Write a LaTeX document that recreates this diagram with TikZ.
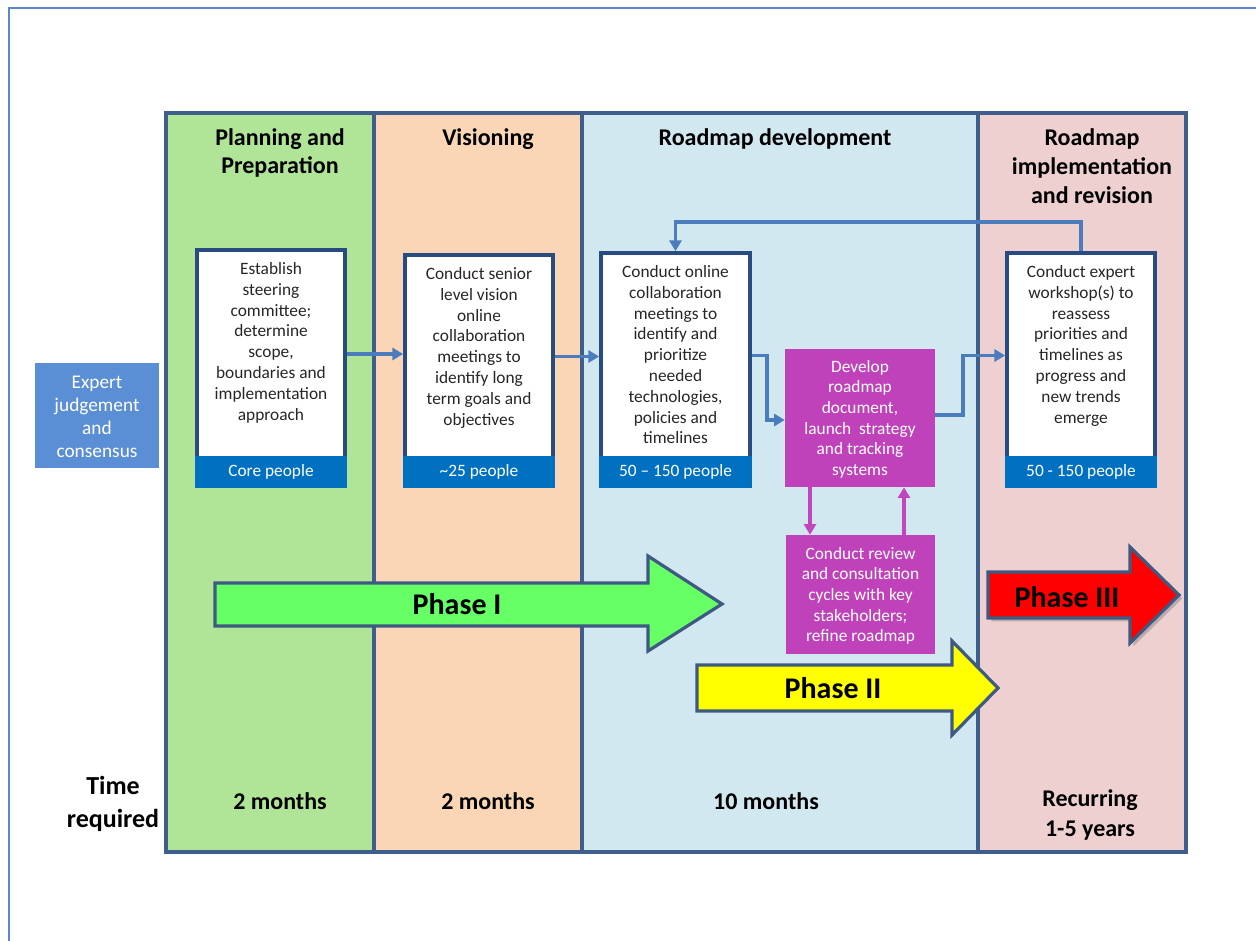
\documentclass[tikz,border=0pt]{standalone}
\usepackage{fontspec}
\setmainfont{Carlito}
\usetikzlibrary{fit,arrows.meta,shadows,calc}
\definecolor{cgreen}{RGB}{176,229,152}
\definecolor{cpeach}{RGB}{251,214,182}
\definecolor{cblue}{RGB}{210,232,240}
\definecolor{cpink}{RGB}{238,208,209}
\definecolor{colborder}{RGB}{64,94,140}
\definecolor{boxborder}{RGB}{40,76,130}
\definecolor{bandblue}{RGB}{0,112,192}
\definecolor{connblue}{RGB}{74,124,190}
\definecolor{magbox}{RGB}{192,66,186}
\definecolor{magline}{RGB}{196,70,190}
\definecolor{expblue}{RGB}{90,142,213}
\definecolor{framec}{RGB}{92,135,198}
\definecolor{phborder}{RGB}{62,90,130}
\definecolor{pgreen}{RGB}{102,255,102}
\definecolor{pyellow}{RGB}{255,255,0}
\definecolor{pred}{RGB}{255,0,0}
\begin{document}
\begin{tikzpicture}[x=0.75pt,y=-0.75pt,
  col/.style={draw=colborder,line width=2.4pt,inner sep=0pt},
  hdr/.style={font=\fontsize{18}{21.5}\selectfont\bfseries,align=center,inner sep=0pt},
  wbox/.style={draw=boxborder,fill=white,line width=2.8pt,inner sep=0pt},
  band/.style={fill=bandblue,inner sep=0pt},
  bandtext/.style={text=white,font=\fontsize{13}{15.6}\selectfont,inner sep=0pt},
  btext/.style={font=\fontsize{13}{15.6}\selectfont,align=center,inner sep=0pt,text=black!85},
  mbox/.style={fill=magbox,inner sep=0pt},
  mtext/.style={text=white,font=\fontsize{13}{15.5}\selectfont,align=center,inner sep=0pt},
  ebox/.style={fill=expblue,inner sep=0pt},
  etext/.style={text=white,font=\fontsize{14.5}{17.25}\selectfont,align=center,inner sep=0pt},
  conn/.style={draw=connblue,line width=2.8pt,-{Triangle[length=8pt,width=9pt]}},
  mconn/.style={draw=magline,line width=2.6pt,-{Triangle[length=8pt,width=9pt]}},
  phase/.style={draw=phborder,line width=2.4pt,line join=miter},
  phtext/.style={font=\fontsize{22.5}{26}\selectfont\bfseries,inner sep=0pt},
  bottomtext/.style={font=\fontsize{18}{22}\selectfont\bfseries,align=center,inner sep=0pt}
]
\useasboundingbox (0,0) rectangle (1256,940);
% outer frame
\draw[draw=framec,line width=1.5pt] (9,950) -- (9,8) -- (1270,8);

% columns
\node[col,fill=cgreen,fit={(166,113)(374,852)}] (c1) {};
\node[col,fill=cpeach,fit={(374,113)(582,852)}] (c2) {};
\node[col,fill=cblue,fit={(582,113)(978,852)}] (c3) {};
\node[col,fill=cpink,fit={(978,113)(1186,852)}] (c4) {};

% headers
\node[hdr] (h1) at (280,153) {Planning and\\Preparation};
\node[hdr] (h2) at (488,139) {Visioning};
\node[hdr] (h3) at (775,139) {Roadmap development};
\node[hdr] (h4) at (1092,166) {Roadmap\\implementation\\and revision};

% white boxes
\node[wbox,fit={(197,250)(345,458)}] (b1) {};
\node[band,fit={(195,456)(347,488)}] (p1) {};
\node[bandtext] (p1l) at (p1.center) {Core people};
\node[btext,anchor=north] (t1) at ([yshift=-10.5pt]b1.north) {Establish\\steering\\committee;\\determine\\scope,\\boundaries and\\implementation\\approach};

\node[wbox,fit={(405,255)(553,458)}] (b2) {};
\node[band,fit={(403,456)(555,488)}] (p2) {};
\node[bandtext] (p2l) at (p2.center) {\textasciitilde 25 people};
\node[btext,anchor=north] (t2) at ([yshift=-10.5pt]b2.north) {Conduct senior\\level vision\\online\\collaboration\\meetings to\\identify long\\term goals and\\objectives};

\node[wbox,fit={(601,253)(750,458)}] (b3) {};
\node[band,fit={(599,456)(752,488)}] (p3) {};
\node[bandtext] (p3l) at (p3.center) {50 -- 150 people};
\node[btext,anchor=north] (t3) at ([yshift=-10.5pt]b3.north) {Conduct online\\collaboration\\meetings to\\identify and\\prioritize\\needed\\technologies,\\policies and\\timelines};

\node[wbox,fit={(1007,253)(1155,458)}] (b4) {};
\node[band,fit={(1005,456)(1157,488)}] (p4) {};
\node[bandtext] (p4l) at (p4.center) {50 - 150 people};
\node[btext,anchor=north] (t4) at ([yshift=-10.5pt]b4.north) {Conduct expert\\workshop(s) to\\reassess\\priorities and\\timelines as\\progress and\\new trends\\emerge};

% magenta boxes
\node[mbox,fit={(785,349)(935,487)}] (dev) {};
\node[mtext] (devl) at ([yshift=-1pt]dev.center) {Develop\\roadmap\\document,\\launch\ \ strategy\\and tracking\\systems};
\node[mbox,fit={(786,535)(935,654)}] (rev) {};
\node[mtext] (revl) at ([yshift=-1pt]rev.center) {Conduct review\\and consultation\\cycles with key\\stakeholders;\\refine roadmap};

% expert box
\node[ebox,fit={(35,363)(159,468)}] (exp) {};
\node[etext] (expl) at ([yshift=-1pt]exp.center) {Expert\\judgement\\and\\consensus};

% blue connectors
\draw[conn] (b1.east) -- (b1.east -| b2.west);
\draw[conn] (b2.east) -- (b2.east -| b3.west);
\coordinate (k1) at (767,420);
\coordinate (k2) at (963,415);
\coordinate (k3) at (0,222);
\draw[conn] (b3.east) -| (k1) -- (k1 -| dev.west);
\draw[conn] (k2 -| dev.east) -- (k2) |- (b4.west);
\draw[conn] (b4.north) -- (k3 -| b4.north) -- (k3 -| b3.north) -- (b3.north);

% magenta connectors
\coordinate (m1) at (810,0);
\coordinate (m2) at (904,0);
\draw[mconn] (dev.south -| m1) -- (rev.north -| m1);
\draw[mconn] (rev.north -| m2) -- (dev.south -| m2);

% phase arrows
\draw[phase,fill=pgreen] (215,583) -- (648,583) -- (648,556) -- (722,604) -- (648,651) -- (648,626) -- (215,626) -- cycle;
\node[phtext] (ph1) at (457,604) {Phase I};
\draw[phase,fill=pyellow] (697,665) -- (952,665) -- (952,641) -- (998,688) -- (952,735) -- (952,711) -- (697,711) -- cycle;
\node[phtext] (ph2) at (833,688) {Phase II};
\draw[phase,fill=pred,drop shadow={shadow xshift=2.5pt,shadow yshift=-2.5pt,opacity=0.45}] (988,572) -- (1130,572) -- (1130,547) -- (1179,595) -- (1130,643) -- (1130,618) -- (988,618) -- cycle;
\node[phtext] (ph3) at (1067,597) {Phase III};

% bottom texts
\node[bottomtext,font=\fontsize{19.5}{25}\selectfont\bfseries] (tr) at (113,804) {Time\\required};
\node[bottomtext] (m1t) at (280,801) {2 months};
\node[bottomtext] (m2t) at (488,801) {2 months};
\node[bottomtext] (m3t) at (766,801) {10 months};
\node[bottomtext] (m4t) at (1090,815) {Recurring\\1-5 years};
\end{tikzpicture}
\end{document}
